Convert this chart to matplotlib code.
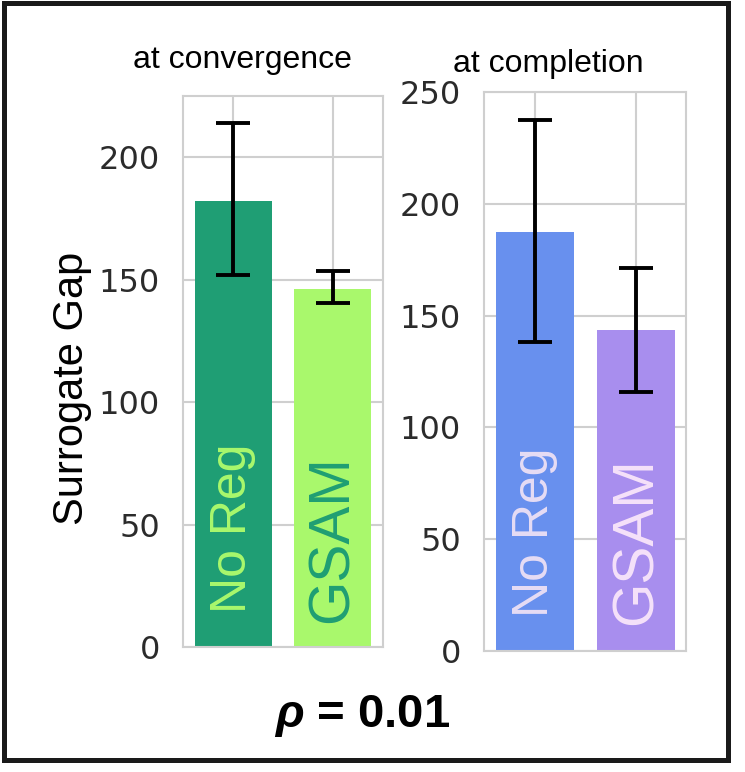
import matplotlib
matplotlib.use("Agg")
import matplotlib.pyplot as plt
import matplotlib.transforms as mtransforms
from matplotlib.patches import Rectangle

# ---- data ----
panel_titles = ["at convergence", "at completion"]
methods = ["No Reg", "GSAM"]
conv_means = [182.0, 146.0]
conv_lo = [152.0, 140.5]
conv_hi = [214.0, 153.5]
comp_means = [187.5, 143.5]
comp_lo = [138.0, 116.0]
comp_hi = [237.5, 171.5]
conv_yticks = [0, 50, 100, 150, 200]
comp_yticks = [0, 50, 100, 150, 200, 250]

# ---- styling ----
plt.rcParams["mathtext.fontset"] = "custom"
plt.rcParams["mathtext.it"] = "Liberation Sans:italic:bold"
plt.rcParams["mathtext.rm"] = "Liberation Sans:bold"
SANS = "Liberation Sans"
W, H = 745, 772

fig = plt.figure(figsize=(W / 100, H / 100), dpi=100)

def fx(px):
    return px / W

def fy(py):
    return 1 - py / H

ax1 = fig.add_axes([fx(183), fy(647), (383 - 183) / W, (647 - 96) / H])
ax2 = fig.add_axes([fx(484), fy(651), (686 - 484) / W, (651 - 92) / H])

conf = [
    (ax1, conv_means, conv_lo, conv_hi, conv_yticks, (0, 225), (-0.51, 1.51), 0.78,
     ["#1f9e74", "#a9f86c"], ["#a9f86c", "#1f9e74"], [0.062, 0.044]),
    (ax2, comp_means, comp_lo, comp_hi, comp_yticks, (0, 250), (-0.5, 1.49), 0.77,
     ["#6890ee", "#a88eee"], ["#e6dcf5", "#f5e1fa"], [0.061, 0.046]),
]

grid_c = "#cfcfcf"
for ax, means, lo, hi, yt, ylim, xlim, bw, colors, tcolors, tfrac in conf:
    x = list(range(len(methods)))
    ax.set_axisbelow(True)
    ax.bar(x, means, width=bw, color=colors, edgecolor="none", zorder=2)
    yerr = [[m - l for m, l in zip(means, lo)], [h - m for m, h in zip(means, hi)]]
    ax.errorbar(x, means, yerr=yerr, fmt="none", ecolor="black", elinewidth=2.8,
                capsize=12, capthick=2.8, zorder=3)
    ax.set_ylim(*ylim)
    ax.set_xlim(*xlim)
    ax.set_yticks(yt)
    ax.set_xticks(x)
    ax.set_xticklabels([])
    ax.tick_params(axis="both", length=0)
    ax.tick_params(axis="y", labelsize=23, labelcolor="#2b2b2b", pad=16.5)
    ax.grid(True, color=grid_c, linewidth=1.5)
    for s in ax.spines.values():
        s.set_color(grid_c)
        s.set_linewidth(1.5)
    trans = mtransforms.blended_transform_factory(ax.transData, ax.transAxes)
    sizes = [36, 41]
    for i, m in enumerate(methods):
        ax.text(i, tfrac[i], m, transform=trans, rotation=90, ha="center", va="bottom",
                fontsize=sizes[i], color=tcolors[i], family=SANS, zorder=4)

fig.text(fx(242), fy(67.7), panel_titles[0], ha="center", va="baseline",
         fontsize=23, family=SANS, color="black")
fig.text(fx(548), fy(72), panel_titles[1], ha="center", va="baseline",
         fontsize=23, family=SANS, color="black")
fig.text(fx(71.7), fy(388), "Surrogate Gap", rotation=90, ha="center", va="center",
         fontsize=30, family=SANS, color="black")
fig.text(fx(362), fy(727), r"$\rho$ = 0.01", ha="center", va="baseline",
         fontsize=34, family=SANS, weight="bold", color="black")

fig.patches.append(Rectangle((fx(4), fy(759.5)), (727.5 - 4) / W, (759.5 - 2.5) / H,
                             transform=fig.transFigure, fill=False, lw=3.6,
                             edgecolor="#1a1a1a"))

fig.savefig("out.png", dpi=100)
